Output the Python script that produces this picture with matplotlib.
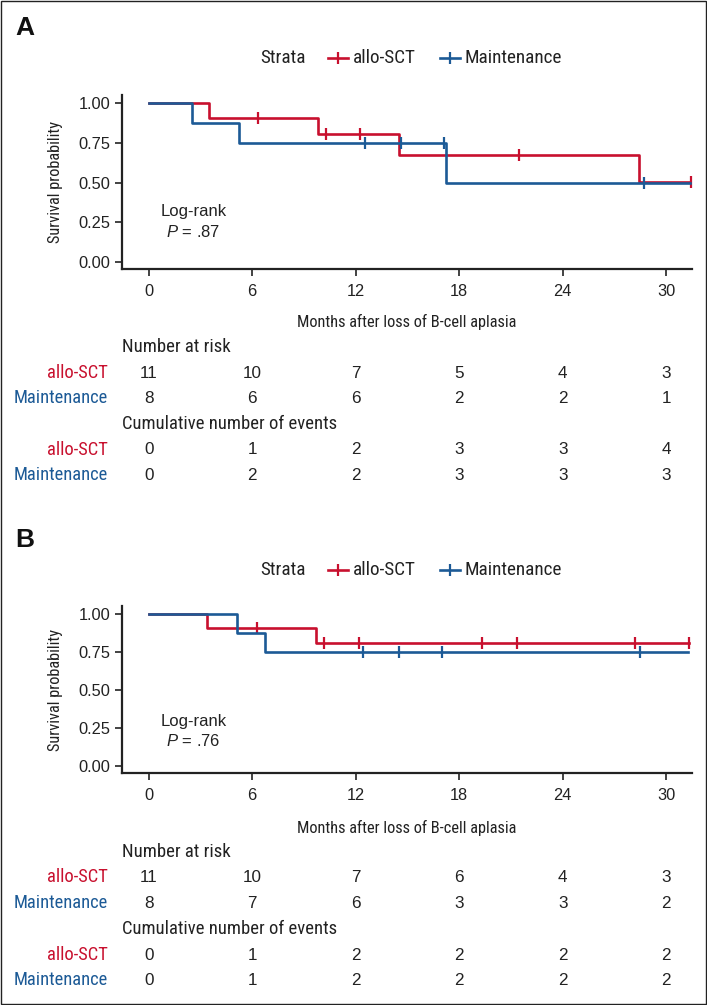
import matplotlib
matplotlib.use('Agg')
import matplotlib.pyplot as plt
from matplotlib import transforms, font_manager
from matplotlib.font_manager import FontProperties
from matplotlib.lines import Line2D
from matplotlib.patches import Rectangle

W, H = 707, 1005
red = '#C8102E'
blue = '#1C5A96'
ink = '#222222'

plt.rcParams['font.family'] = ['Liberation Sans', 'DejaVu Sans']
plt.rcParams['mathtext.fontset'] = 'custom'
plt.rcParams['mathtext.it'] = 'Liberation Sans:italic'
plt.rcParams['mathtext.rm'] = 'Liberation Sans'

# look for a condensed sans face for titles and labels
narrow_file = None
narrow_scale = 1.0
for want in ['Liberation Sans Narrow', 'Arial Narrow', 'Roboto Condensed']:
    for f in font_manager.fontManager.ttflist:
        if f.name == want and f.style == 'normal' and f.weight in (400, 'normal', 'regular'):
            narrow_file = f.fname
            break
    if narrow_file:
        break
if narrow_file is None:
    for fam in ['DejaVu Sans', 'Noto Sans', 'Open Sans', 'Roboto', 'Lato', 'Inter']:
        for f in font_manager.fontManager.ttflist:
            if (f.name == fam and f.stretch in ('condensed', 'semi-condensed')
                    and f.style == 'normal' and f.weight in (400, 'normal', 'regular')):
                narrow_file = f.fname
                break
        if narrow_file:
            break
if narrow_file is None:
    narrow_scale = 0.86


def nfont(size):
    if narrow_file:
        return FontProperties(fname=narrow_file, size=size)
    return FontProperties(family='Liberation Sans', size=size * narrow_scale)


table_times = [0, 6, 12, 18, 24, 30]
xticks = [0, 6, 12, 18, 24, 30]
yticks = [0.0, 0.25, 0.50, 0.75, 1.00]

# Panel A data
a_allo_t = [0, 3.47, 9.79, 14.53, 28.4]
a_allo_s = [1.0, 0.909, 0.808, 0.673, 0.505]
a_allo_end = 31.45
a_allo_cens = [6.34, 10.29, 12.25, 21.46, 31.45]
a_main_t = [0, 2.49, 5.22, 17.23]
a_main_s = [1.0, 0.875, 0.75, 0.5]
a_main_end = 31.4
a_main_cens = [12.56, 14.62, 17.13, 28.7]
a_risk_allo = [11, 10, 7, 5, 4, 3]
a_risk_main = [8, 6, 6, 2, 2, 1]
a_ev_allo = [0, 1, 2, 3, 3, 4]
a_ev_main = [0, 2, 2, 3, 3, 3]
a_p = '.87'

# Panel B data
b_allo_t = [0, 3.39, 9.71]
b_allo_s = [1.0, 0.909, 0.808]
b_allo_end = 31.3
b_allo_cens = [6.28, 10.15, 12.18, 19.31, 21.35, 28.2, 31.3]
b_main_t = [0, 5.12, 6.74]
b_main_s = [1.0, 0.875, 0.75]
b_main_end = 31.25
b_main_cens = [12.45, 14.53, 17.03, 28.48]
b_risk_allo = [11, 10, 7, 6, 4, 3]
b_risk_main = [8, 7, 6, 3, 3, 2]
b_ev_allo = [0, 1, 2, 2, 2, 2]
b_ev_main = [0, 1, 2, 2, 2, 2]
b_p = '.76'


def surv_at(t, st, ss):
    s = ss[0]
    for ti, si in zip(st, ss):
        if ti <= t:
            s = si
    return s


def fx(px):
    return px / W


def fy(px):
    return 1 - px / H


fig = plt.figure(figsize=(W / 100, H / 100), dpi=100)
fig.add_artist(Rectangle((0.001, 0.001), 0.998, 0.998, transform=fig.transFigure,
                         fill=False, edgecolor=ink, lw=1.0))


def panel(letter, lay, allo, main, risk, ev, p, logrank_y):
    ax_l, ax_r = 122, 692
    ax = fig.add_axes([fx(ax_l), fy(lay['ax_bot']), (ax_r - ax_l) / W,
                       (lay['ax_bot'] - lay['ax_top']) / H])
    ax.set_xlim(-1.55, 31.5)
    ax.set_ylim(-0.045, 1.053)
    for (st, ss, end, cens), col, z in [(allo, red, 2), (main, blue, 3)]:
        ax.step(st + [end], ss + [ss[-1]], where='post', color=col, lw=1.9, zorder=z)
        ax.plot(cens, [surv_at(c, st, ss) for c in cens], ls='none', marker='|',
                ms=9, mew=1.6, color=col, zorder=z)
    ax.set_xticks(xticks)
    ax.set_yticks(yticks)
    ax.set_yticklabels(['%.2f' % v for v in yticks])
    ax.tick_params(labelsize=11.8, length=5, width=1.2, color=ink, labelcolor=ink)
    ax.tick_params(axis='x', pad=6)
    for s in ['top', 'right']:
        ax.spines[s].set_visible(False)
    for s in ['left', 'bottom']:
        ax.spines[s].set_linewidth(1.6)
        ax.spines[s].set_color(ink)
    ax.set_ylabel('Survival probability', fontproperties=nfont(11.8), color=ink)
    ax.yaxis.set_label_coords(-0.104, 0.5)
    ax.text(2.6, logrank_y[0], 'Log-rank', ha='center', va='center', fontsize=12, color=ink)
    ax.text(2.6, logrank_y[1], '$P$ = ' + p, ha='center', va='center', fontsize=12, color=ink)

    fig.text(fx(15), fy(lay['letter']), letter, fontsize=19, fontweight='bold',
             ha='left', va='center', color='#111111')
    # legend
    ly = fy(lay['legend'])
    fig.text(fx(260), ly, 'Strata', fontproperties=nfont(13.8), va='center', color=ink)
    for x0, col, lab in [(328, red, 'allo-SCT'), (440, blue, 'Maintenance')]:
        fig.add_artist(Line2D([fx(x0), fx(x0 + 20)], [ly, ly], color=col, lw=1.9))
        fig.add_artist(Line2D([fx(x0 + 10)], [ly], color=col, marker='|', ms=9, mew=1.6))
        fig.text(fx(x0 + 25), ly, lab, fontproperties=nfont(13.8), va='center', color=ink)

    fig.text(fx((ax_l + ax_r) / 2), fy(lay['xlabel']), 'Months after loss of B-cell aplasia',
             fontproperties=nfont(11.8), ha='center', va='center', color=ink)

    tr = transforms.blended_transform_factory(ax.transData, fig.transFigure)
    fig.text(fx(ax_l), fy(lay['nar']), 'Number at risk', fontproperties=nfont(13.5),
             va='center', color=ink)
    fig.text(fx(ax_l), fy(lay['cum']), 'Cumulative number of events', fontproperties=nfont(13.4),
             va='center', color=ink)
    rows = [(lay['rows'][0], 'allo-SCT', red, risk[0]), (lay['rows'][1], 'Maintenance', blue, risk[1]),
            (lay['rows'][2], 'allo-SCT', red, ev[0]), (lay['rows'][3], 'Maintenance', blue, ev[1])]
    for y, lab, col, vals in rows:
        fig.text(fx(108), fy(y), lab, fontproperties=nfont(13.3), ha='right', va='center', color=col)
        for t, v in zip(table_times, vals):
            ax.text(t, fy(y), str(v), transform=tr, ha='center', va='center',
                    fontsize=12.3, color=ink)


lay_a = dict(letter=28, legend=58, ax_top=95, ax_bot=269, xlabel=322, nar=347, cum=424,
             rows=[373, 398, 450, 475])
lay_b = dict(letter=540, legend=570, ax_top=606, ax_bot=773, xlabel=828, nar=852, cum=929,
             rows=[877, 903, 955, 980])

panel('A', lay_a, (a_allo_t, a_allo_s, a_allo_end, a_allo_cens),
      (a_main_t, a_main_s, a_main_end, a_main_cens),
      (a_risk_allo, a_risk_main), (a_ev_allo, a_ev_main), a_p, (0.318, 0.19))
panel('B', lay_b, (b_allo_t, b_allo_s, b_allo_end, b_allo_cens),
      (b_main_t, b_main_s, b_main_end, b_main_cens),
      (b_risk_allo, b_risk_main), (b_ev_allo, b_ev_main), b_p, (0.293, 0.163))

fig.savefig('out.png', dpi=100)
